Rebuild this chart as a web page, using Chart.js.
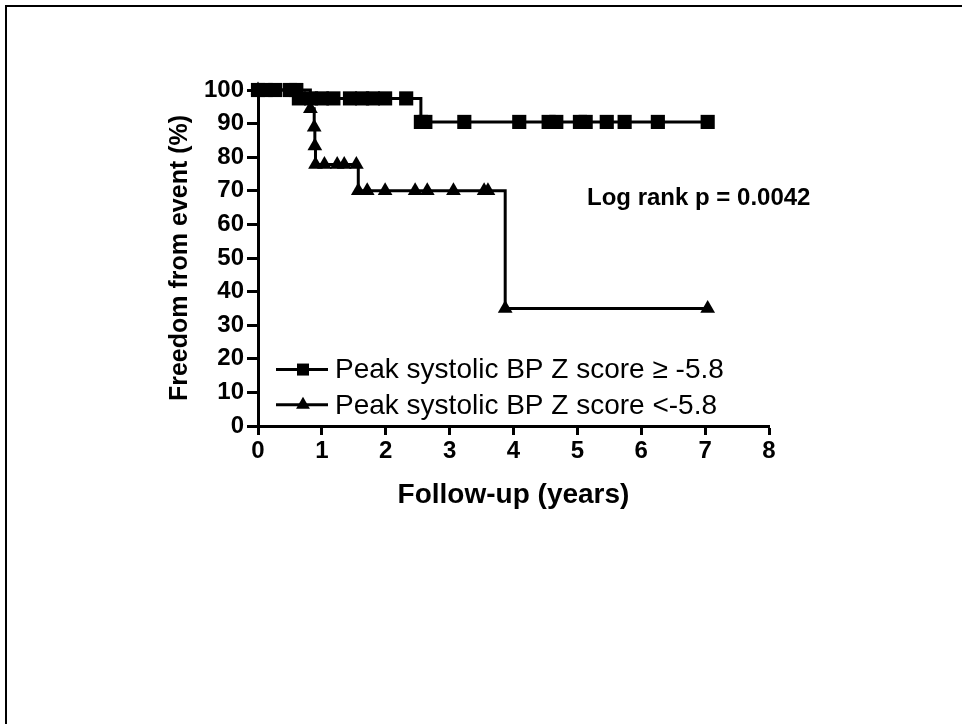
<!DOCTYPE html>
<html lang="en">

<head>
    <meta charset="UTF-8">
    <title>Freedom from event - Kaplan-Meier</title>
    <script src="https://cdn.jsdelivr.net/npm/chart.js"></script>
    <style>
        * {
            margin: 0;
            padding: 0;
            box-sizing: border-box;
        }

        body {
            background: #fff;
            width: 962px;
            height: 724px;
            overflow: hidden;
        }

        canvas {
            display: block;
        }
    </style>
</head>

<body>
    <canvas id="kmChart" width="962" height="724"></canvas>

    <script>
        // Group 1: peak systolic BP Z score >= -5.8 (squares)
        const highTimes = [0, 0.12, 0.27, 0.50, 0.60,
            0.64, 0.83, 1.00, 1.18, 1.44, 1.63, 1.80, 1.99, 2.32,
            2.55, 2.62, 3.23, 4.09, 4.55, 4.67, 5.04, 5.13, 5.46, 5.74, 6.26, 7.04];
        const highSurvival = [100, 100, 100, 100, 100,
            97.5, 97.5, 97.5, 97.5, 97.5, 97.5, 97.5, 97.5, 97.5,
            90.5, 90.5, 90.5, 90.5, 90.5, 90.5, 90.5, 90.5, 90.5, 90.5, 90.5, 90.5];

        // Group 2: peak systolic BP Z score < -5.8 (triangles)
        const lowTimes = [0, 0.82, 0.88, 0.89, 0.90, 1.04, 1.24, 1.35, 1.54,
            1.57, 1.71, 1.99, 2.46, 2.65, 3.06, 3.54, 3.60, 3.87, 7.04];
        const lowSurvival = [100, 94.4, 88.9, 83.3, 77.8, 77.8, 77.8, 77.8, 77.8,
            70.0, 70.0, 70.0, 70.0, 70.0, 70.0, 70.0, 70.0, 35.0, 35.0];

        const seriesLabels = ["Peak systolic BP Z score \u2265 -5.8", "Peak systolic BP Z score <-5.8"];
        const xTitle = "Follow-up (years)";
        const yTitle = "Freedom from event (%)";
        const logRankText = "Log rank p = 0.0042";
        const logRankAt = { x: 6.9, y: 67.8 };

        const FONT = "'Liberation Sans', Arial, sans-serif";

        function toPoints(times, values) {
            return times.map((t, i) => ({ x: t, y: values[i] }));
        }

        function drawMarker(ctx, style, x, y, r) {
            ctx.beginPath();
            if (style === "rect") {
                const s = r * Math.SQRT1_2;
                ctx.rect(x - s, y - s, 2 * s, 2 * s);
            } else {
                ctx.moveTo(x, y - r);
                ctx.lineTo(x + r * 0.866, y + r / 2);
                ctx.lineTo(x - r * 0.866, y + r / 2);
                ctx.closePath();
            }
            ctx.fill();
        }

        // frame lines, legend and log rank text
        const extras = {
            id: "extras",
            beforeDraw(chart) {
                const ctx = chart.ctx;
                ctx.save();
                ctx.fillStyle = "#fff";
                ctx.fillRect(0, 0, chart.width, chart.height);
                ctx.fillStyle = "#000";
                ctx.fillRect(5, 5, chart.width - 5, 2);
                ctx.fillRect(5, 5, 2, chart.height - 5);
                ctx.restore();
            },
            afterDraw(chart) {
                const ctx = chart.ctx;
                const area = chart.chartArea;
                const xs = chart.scales.x, ys = chart.scales.y;
                ctx.save();
                ctx.fillStyle = "#000";
                ctx.strokeStyle = "#000";

                // log rank
                ctx.font = "bold 24px " + FONT;
                ctx.textAlign = "center";
                ctx.textBaseline = "middle";
                ctx.fillText(logRankText, xs.getPixelForValue(logRankAt.x), ys.getPixelForValue(logRankAt.y));

                // legend
                const styles = ["rect", "triangle"];
                const rowY = [ys.getPixelForValue(16.8), ys.getPixelForValue(6.3)];
                const x0 = area.left + 18;
                ctx.font = "28px " + FONT;
                ctx.textAlign = "left";
                styles.forEach((st, i) => {
                    ctx.lineWidth = 3;
                    ctx.beginPath();
                    ctx.moveTo(x0, rowY[i]);
                    ctx.lineTo(x0 + 52, rowY[i]);
                    ctx.stroke();
                    drawMarker(ctx, st, x0 + 27, rowY[i], st === "rect" ? 8.5 : 8);
                    ctx.fillText(seriesLabels[i], x0 + 59, rowY[i] + 1);
                });
                ctx.restore();
            }
        };

        const ctx = document.getElementById("kmChart").getContext("2d");
        new Chart(ctx, {
            type: "line",
            data: {
                datasets: [
                    {
                        label: seriesLabels[0],
                        data: toPoints(highTimes, highSurvival),
                        stepped: "before",
                        borderColor: "#000",
                        borderWidth: 3,
                        pointStyle: "rect",
                        pointRadius: 10,
                        pointBorderWidth: 0,
                        pointBackgroundColor: "#000",
                        clip: false
                    },
                    {
                        label: seriesLabels[1],
                        data: toPoints(lowTimes, lowSurvival),
                        stepped: "before",
                        borderColor: "#000",
                        borderWidth: 3,
                        pointStyle: "triangle",
                        pointRadius: 8.5,
                        pointBorderWidth: 0,
                        pointBackgroundColor: "#000",
                        clip: false
                    }
                ]
            },
            options: {
                responsive: false,
                animation: false,
                layout: {
                    padding: { left: 165, top: 90, right: 193, bottom: 212 }
                },
                plugins: {
                    legend: { display: false },
                    tooltip: { enabled: false }
                },
                scales: {
                    x: {
                        type: "linear",
                        min: 0,
                        max: 8,
                        ticks: {
                            stepSize: 1,
                            color: "#000",
                            padding: 2,
                            font: { family: FONT, size: 24, weight: "bold" }
                        },
                        grid: {
                            drawOnChartArea: false,
                            drawTicks: true,
                            tickLength: 9,
                            tickWidth: 3,
                            tickColor: "#000"
                        },
                        border: { display: true, color: "#000", width: 3 },
                        title: {
                            display: true,
                            text: xTitle,
                            color: "#000",
                            padding: 0,
                            font: { family: FONT, size: 28, weight: "bold" }
                        },
                        afterFit: (s) => { s.height = 86; }
                    },
                    y: {
                        min: 0,
                        max: 100,
                        ticks: {
                            stepSize: 10,
                            color: "#000",
                            padding: 3,
                            font: { family: FONT, size: 24, weight: "bold" }
                        },
                        grid: {
                            drawOnChartArea: false,
                            drawTicks: true,
                            tickLength: 11,
                            tickWidth: 3,
                            tickColor: "#000"
                        },
                        border: { display: true, color: "#000", width: 3 },
                        title: {
                            display: true,
                            text: yTitle,
                            color: "#000",
                            padding: 0,
                            font: { family: FONT, size: 25, weight: "bold" }
                        },
                        afterFit: (s) => { s.width = 93; }
                    }
                }
            },
            plugins: [extras]
        });
    </script>
</body>

</html>
